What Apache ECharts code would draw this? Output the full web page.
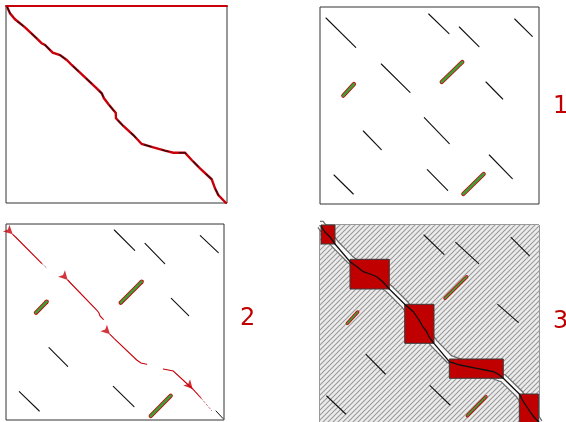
<!DOCTYPE html>
<html>
<head>
<meta charset="utf-8">
<script src="https://cdn.jsdelivr.net/npm/echarts@6/dist/echarts.min.js"></script>
<style>
  html, body { margin: 0; padding: 0; background: #fff; }
  #chart { width: 566px; height: 422px; }
</style>
</head>
<body>
<div id="chart"></div>
<script>
// panel A: full alignment path (local pixel units, y downwards)
const pathA = [
  [1.3, 1.3], [4, 7.3], [9, 13.3], [19, 21.3], [30.7, 32.3], [35.7, 37.3], [39, 39],
  [46.7, 46.7], [54, 49], [60.7, 54], [65.7, 59], [74, 66.7], [90.7, 82.3], [95.7, 87.3],
  [98, 92.3], [102.3, 98], [107.3, 104], [109.7, 106.7], [110, 112.3], [117.3, 120],
  [127.3, 129], [135.7, 138], [147.3, 141.3], [159, 144.7], [167.3, 146.7], [179, 146.7],
  [185.7, 154], [194, 162.3], [205.7, 173.3], [209, 182.3], [212.3, 189], [220, 197]
];

// panel 1: black (non-colinear) and green (reverse) anchors
const blackB = [
  [[6, 11], [35.7, 40.3]], [[108.7, 7], [129, 26.7]], [[139.3, 20], [159, 39.7]],
  [[194.7, 12], [212.3, 29.3]], [[61.3, 57], [90, 85.3]], [[166, 75], [182.7, 92]],
  [[104.3, 110.7], [129.3, 136.7]], [[43.3, 124], [61.3, 142.7]], [[169.3, 148], [192.3, 171.7]],
  [[14, 168], [33.3, 187]], [[107.3, 162.7], [127.7, 183.3]]
];
const greenB = [
  [[23.3, 88.7], [34, 77]], [[121.7, 75], [142.3, 55]], [[143.3, 187], [163.7, 167]]
];

// panel 2
const blackC = [
  [[108.3, 6], [128.7, 26.3]], [[139, 19.3], [158.7, 39.7]], [[194.3, 11.7], [212.3, 28.7]],
  [[165.3, 74.3], [182.7, 91.7]], [[43, 123.7], [61.7, 142.3]], [[13.3, 167.7], [33.3, 187]],
  [[107.3, 162.3], [128, 182.7]]
];
const greenC = [
  [[30, 88.7], [40.7, 77.7]], [[114.7, 78.7], [135.7, 57.7]], [[144.7, 192], [164.7, 171.7]]
];
const redC = [
  [[6.7, 10.3], [10, 13.5], [35.7, 39.3]],
  [[61.7, 56], [65, 59.5], [90.7, 86], [93, 89], [94, 92], [97.3, 95.3]],
  [[104, 110.3], [108, 114.3], [130.7, 136], [135, 139], [140.7, 140.3]],
  [[157.3, 145], [167.3, 147], [186.7, 165], [195, 174]]
];
const tailsC = [
  [[35.7, 39.3], [40, 43.3]],
  [[195, 174], [205.7, 186.7]]
];
// arrowheads: [path index, vertex index]
const arrowsC = [[0, 0], [1, 0], [2, 0], [3, 2]];
const cornerArrowC = [[[210, 187], [217, 194.5]]];

// panel 3
const blackD = [
  [[104, 10], [124, 29.3]], [[135.7, 17.3], [158.7, 38.7]], [[191, 12.3], [209.3, 30.7]],
  [[177.7, 79.3], [198.3, 97.3]], [[46, 129.3], [65.3, 149]], [[6.7, 171], [25.7, 189]],
  [[110, 160.7], [130, 180]]
];
const greenD = [
  [[27.3, 98.3], [37.7, 87]], [[125, 73.3], [146.7, 51.7]], [[147.3, 190.7], [166, 171.7]]
];
const boxesD = [
  [[1, 0], [15, 19]], [[30, 34.3], [69.3, 64]], [[84.7, 79.3], [114, 118.3]],
  [[129.3, 134], [183.3, 153.3]], [[199.3, 169], [218.7, 198]]
];
const pathD = [
  [1, 1], [5, 7], [10, 12], [15, 19],
  [30, 36.7], [36, 41], [43.3, 46.7], [50, 49], [56.7, 51.7], [63, 57], [69.3, 64],
  [84.7, 79.3], [93.3, 86.7], [97, 92], [100, 96.7], [103, 102], [106.7, 106.7], [109, 112], [114, 118.3],
  [129.3, 136.7], [140, 140], [156.7, 143.3], [165, 145], [173.3, 146.7], [178, 149], [183.3, 153.3],
  [199.3, 169], [203.3, 176.7], [207, 182], [210, 186.7], [214, 192], [218.7, 197]
];
const labels = ['1', '2', '3'];

const chart = echarts.init(document.getElementById('chart'));

const panels = [
  { left: 6, top: 6, width: 221, height: 197 },
  { left: 320, top: 7, width: 219, height: 197 },
  { left: 6, top: 224, width: 218, height: 196 },
  { left: 320, top: 225, width: 219, height: 197 }
];

// hatch pattern for the filtered-out area
const hatch = document.createElement('canvas');
hatch.width = 5; hatch.height = 5;
const hc = hatch.getContext('2d');
hc.fillStyle = '#ececec';
hc.fillRect(0, 0, 5, 5);
hc.strokeStyle = '#9a9a9a';
hc.lineWidth = 1.1;
hc.beginPath();
hc.moveTo(-1, 6); hc.lineTo(6, -1);
hc.moveTo(-1, 1); hc.lineTo(1, -1);
hc.moveTo(4, 6); hc.lineTo(6, 4);
hc.stroke();

const RED = '#c8000a';
const GREEN = '#3f9e35';

function segs(list, idx, color, width, z) {
  return {
    type: 'lines', coordinateSystem: 'cartesian2d', xAxisIndex: idx, yAxisIndex: idx,
    polyline: true, silent: true, z: z || 5,
    lineStyle: { color: color, width: width, opacity: 1, cap: 'round' },
    data: list.map(c => ({ coords: c }))
  };
}
function greens(list, idx, w) {
  return [segs(list, idx, RED, w + 1.6, 5), segs(list, idx, GREEN, w, 6)];
}
function rects(list, idx, style, z) {
  return {
    type: 'custom', xAxisIndex: idx, yAxisIndex: idx, silent: true, z: z,
    data: list.map(b => [b[0][0], b[0][1], b[1][0], b[1][1]]),
    renderItem: function (params, api) {
      const a = api.coord([api.value(0), api.value(1)]);
      const b = api.coord([api.value(2), api.value(3)]);
      return {
        type: 'rect',
        shape: { x: Math.min(a[0], b[0]), y: Math.min(a[1], b[1]),
                 width: Math.abs(b[0] - a[0]), height: Math.abs(b[1] - a[1]) },
        style: style
      };
    }
  };
}

const series = [];
// A
series.push(segs([pathA], 0, RED, 2.4, 5));
const dashA = segs([pathA], 0, '#111', 1.1, 6);
dashA.lineStyle.type = [7, 11];
series.push(dashA);
// 1
series.push(segs(blackB, 1, '#111', 1.1));
series.push(...greens(greenB, 1, 2.6));
// 2
series.push(segs(blackC, 2, '#111', 1.1));
series.push(...greens(greenC, 2, 2.6));
series.push(segs(redC, 2, RED, 1.1));
const tails = segs(tailsC, 2, '#c98080', 1);
tails.lineStyle.type = [2, 2];
series.push(tails);
series.push({
  type: 'scatter', xAxisIndex: 2, yAxisIndex: 2, silent: true, z: 7,
  symbol: 'arrow', symbolSize: [7, 9],
  itemStyle: { color: RED },
  data: arrowsC.map(([p, v]) => {
    const a = redC[p][v], b = redC[p][v + 1];
    const ang = Math.atan2(b[0] - a[0], -(b[1] - a[1])) * 180 / Math.PI;
    return { value: a, symbolRotate: -ang };
  })
});
series.push(Object.assign(segs(cornerArrowC, 2, '#111', 1), { symbol: ['none', 'arrow'], symbolSize: 6 }));
// 3
series.push(rects([[[0, 0], [219, 197]]], 3, { fill: { image: hatch, repeat: 'repeat' } }, 1));
const band = [[0, 0]];
boxesD.forEach(b => { band.push(b[0], b[1]); });
const bandEdge = segs([band], 3, '#6a6a6a', 9, 2);
const bandFill = segs([band], 3, '#fafafa', 6.6, 2);
bandEdge.lineStyle.cap = bandFill.lineStyle.cap = 'butt';
bandEdge.lineStyle.join = bandFill.lineStyle.join = 'miter';
series.push(bandEdge, bandFill);
series.push(rects(boxesD, 3, { fill: '#c00000', stroke: '#3a3a3a', lineWidth: 1 }, 3));
series.push(segs([pathD], 3, '#111', 1.3, 4));
series.push(segs(blackD, 3, '#111', 1.1));
series.push(...greens(greenD, 3, 1.8));

const offAxis = { show: false };
chart.setOption({
  animation: false,
  backgroundColor: '#fff',
  grid: panels.map(p => Object.assign({
    show: true, borderColor: '#333', borderWidth: 1, backgroundColor: 'transparent'
  }, p)),
  xAxis: panels.map((p, i) => ({
    type: 'value', gridIndex: i, min: 0, max: p.width,
    position: 'top',
    axisLine: { show: i === 0, onZero: false, lineStyle: { color: RED, width: 2 } },
    axisTick: offAxis, axisLabel: offAxis, splitLine: offAxis
  })),
  yAxis: panels.map((p, i) => ({
    type: 'value', gridIndex: i, min: 0, max: p.height, inverse: true,
    axisLine: offAxis, axisTick: offAxis, axisLabel: offAxis, splitLine: offAxis
  })),
  title: [
    { text: labels[0], left: 548, top: 90 },
    { text: labels[1], left: 235, top: 302 },
    { text: labels[2], left: 548, top: 305 }
  ].map(t => Object.assign(t, {
    textStyle: { color: '#c00000', fontSize: 24, fontWeight: 'normal', fontFamily: 'DejaVu Sans' }
  })),
  series: series
});
</script>
</body>
</html>
